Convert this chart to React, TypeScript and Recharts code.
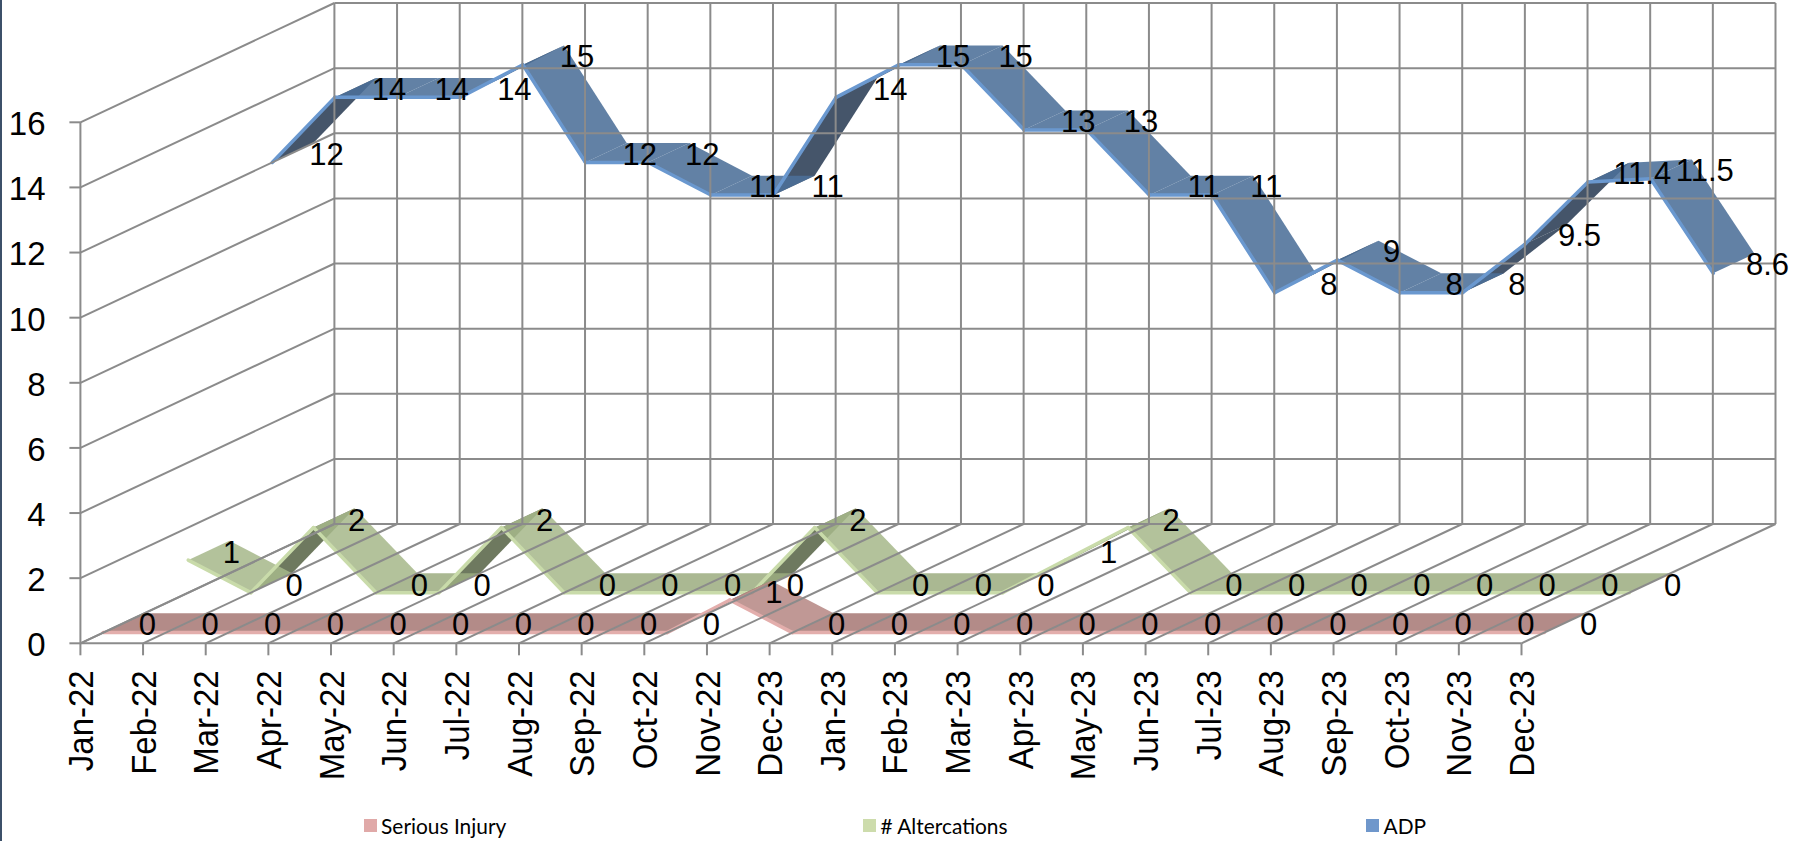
import React from 'react';
import { LineChart, Line, XAxis, YAxis, Legend } from 'recharts';

const months = ['Jan-22','Feb-22','Mar-22','Apr-22','May-22','Jun-22','Jul-22','Aug-22','Sep-22','Oct-22','Nov-22','Dec-23','Jan-23','Feb-23','Mar-23','Apr-23','May-23','Jun-23','Jul-23','Aug-23','Sep-23','Oct-23','Nov-23','Dec-23'];
const seriousInjury = [0,0,0,0,0,0,0,0,0,0,1,0,0,0,0,0,0,0,0,0,0,0,0,0];
const altercations = [1,0,2,0,0,2,0,0,0,0,2,0,0,0,1,2,0,0,0,0,0,0,0,0];
const adp = [12,14,14,14,15,12,12,11,11,14,15,15,13,13,11,11,8,9,8,8,9.5,11.4,11.5,8.6];
const yTicks = [0,2,4,6,8,10,12,14,16];

const chartData = months.map((m, i) => ({ key: i, month: m, serious: seriousInjury[i], alter: altercations[i], adp: adp[i] }));

const W = 1797, H = 841;
const PLOT_LEFT = 80.4, PLOT_RIGHT = 1521.5, PLOT_TOP = 122.3, PLOT_BOTTOM = 643.3;
const DEPTH = 254, RISE = 119.3, SLOPE = RISE / DEPTH;
const GRID = '#8b8b8b';
const AXIS_FONT = '"Liberation Sans", Arial, sans-serif';

const styles: Record<string, any> = {
  serious: { front: 22, back: 64, lx: 67, ly: -19, flat: '#a97b78', down: '#b78a86', under: '#7d5a58', edge: '#e3aeac', op: 0.88 },
  alter: { front: 107, back: 149, lx: 151, ly: -58.6, flat: '#9cac80', down: '#a6b88b', under: '#566345', edge: '#c9dbaa', op: 0.86 },
  adp: { front: 191, back: 233, lx: 246, ly: -99, flat: '#4c7099', down: '#4c7099', under: '#2b3d55', edge: '#6a98cf', op: 0.88 },
};

function ribbon(pts: any[], s: any) {
  const segs = pts.slice(0, -1).map((p, i) => {
    const q = pts[i + 1];
    const a = [p.x + s.front, p.y - s.front * SLOPE];
    const b = [q.x + s.front, q.y - s.front * SLOPE];
    const c = [q.x + s.back, q.y - s.back * SLOPE];
    const d = [p.x + s.back, p.y - s.back * SLOPE];
    const rise = (p.y - q.y) / (q.x - p.x);
    const under = rise > SLOPE + 0.02;
    const fill = under ? s.under : q.y > p.y + 0.5 ? s.down : s.flat;
    return { i, a, b, c, d, under, fill };
  });
  const ordered = [...segs.filter((g) => g.under), ...segs.filter((g) => !g.under)];
  const inset = 0.8;
  return (
    <g>
      {ordered.map((g) => (
        <polygon key={g.i} points={[g.a, g.b, g.c, g.d].map((v) => v.join(',')).join(' ')} fill={g.fill} fillOpacity={s.op} />
      ))}
      {segs.map((g) => (
        <line
          key={'e' + g.i}
          x1={g.a[0] + inset}
          y1={g.a[1] - inset * SLOPE}
          x2={g.b[0] + inset}
          y2={g.b[1] - inset * SLOPE}
          stroke={s.edge}
          strokeWidth={3.5}
          strokeLinecap="round"
        />
      ))}
    </g>
  );
}

const makeDot = (id: string) => (props: any) => {
  if (props.index !== 0) return <g key={id + props.index} />;
  return <g key={id + 'ribbon'}>{ribbon(props.points, styles[id])}</g>;
};

const makeLabel = (id: string) => (props: any) => {
  const s = styles[id];
  return (
    <text key={id + props.index} x={props.x + s.lx} y={props.y + s.ly} dy="0.36em" textAnchor="middle" fontFamily={AXIS_FONT} fontSize={31} fill="#000">
      {props.value}
    </text>
  );
};

const XTick = (props: any) => {
  const { x, payload } = props;
  const fs = 33;
  return (
    <g>
      <line x1={x} y1={PLOT_BOTTOM} x2={x + DEPTH} y2={PLOT_BOTTOM - RISE} stroke={GRID} strokeWidth={2} />
      <line x1={x + DEPTH} y1={PLOT_TOP - RISE} x2={x + DEPTH} y2={PLOT_BOTTOM - RISE} stroke={GRID} strokeWidth={2} />
      <line x1={x} y1={PLOT_BOTTOM} x2={x} y2={PLOT_BOTTOM + 12} stroke={GRID} strokeWidth={2} />
      <text transform={`translate(${x + fs * 0.38},${PLOT_BOTTOM + 27}) rotate(-90) scale(1,1.05)`} textAnchor="end" fontFamily={AXIS_FONT} fontSize={fs} fill="#000">
        {months[payload.index] ?? payload.value}
      </text>
    </g>
  );
};

const YTick = (props: any) => {
  const { y, payload } = props;
  return (
    <g>
      <line x1={PLOT_LEFT} y1={y} x2={PLOT_LEFT + DEPTH} y2={y - RISE} stroke={GRID} strokeWidth={2} />
      <line x1={PLOT_LEFT + DEPTH} y1={y - RISE} x2={PLOT_RIGHT + DEPTH} y2={y - RISE} stroke={GRID} strokeWidth={2} />
      <line x1={PLOT_LEFT - 11} y1={y} x2={PLOT_LEFT} y2={y} stroke={GRID} strokeWidth={2} />
      <text x={45.5} y={y + 1} dy="0.36em" textAnchor="end" fontFamily={AXIS_FONT} fontSize={33} fill="#000">
        {payload.value}
      </text>
    </g>
  );
};

const legendPos: Record<string, number> = { serious: 363.6, alter: 863, adp: 1366 };
const legendColor: Record<string, string> = { serious: '#e0a9a8', alter: '#cddcac', adp: '#6f97cb' };

const LegendContent = (props: any) => (
  <div style={{ position: 'absolute', left: 0, top: 0, width: 0, height: 0 }}>
    {(props.payload || []).map((e: any) => (
      <div key={e.dataKey} style={{ position: 'absolute', left: legendPos[e.dataKey], top: 818.5, height: 14, whiteSpace: 'nowrap' }}>
        <span style={{ position: 'absolute', left: 0, top: 0, width: 13, height: 13.5, background: legendColor[e.dataKey] }} />
        <span style={{ position: 'absolute', left: 17.5, top: -7, fontFamily: 'Lato, sans-serif', fontSize: 20.9, lineHeight: '28px', color: '#000' }}>{e.value}</span>
      </div>
    ))}
  </div>
);

export default function App() {
  return (
    <div style={{ position: 'absolute', left: 0, top: 0, width: W, height: H, background: '#fff', overflow: 'hidden' }}>
      <div style={{ position: 'absolute', left: 0, top: 0, width: 2, height: H, background: '#3c5069', zIndex: 2 }} />
      <LineChart width={W} height={H} data={chartData} margin={{ top: PLOT_TOP, right: W - PLOT_RIGHT, bottom: 97.7, left: 0 }}>
        <XAxis
          dataKey="key"
          height={100}
          interval={0}
          padding={{ left: 0, right: 0 }}
          tick={<XTick />}
          tickLine={false}
          tickSize={0}
          tickMargin={0}
          axisLine={{ stroke: GRID, strokeWidth: 2 }}
        />
        <YAxis
          width={PLOT_LEFT}
          domain={[0, 16]}
          ticks={yTicks}
          interval={0}
          tick={<YTick />}
          tickLine={false}
          tickSize={0}
          tickMargin={0}
          axisLine={{ stroke: GRID, strokeWidth: 2 }}
        />
        <Legend content={<LegendContent />} wrapperStyle={{ position: 'absolute', left: 0, top: 0, width: 0, height: 0 }} />
        <Line dataKey="adp" name="ADP" stroke="none" isAnimationActive={false} dot={makeDot('adp')} activeDot={false} label={makeLabel('adp')} />
        <Line dataKey="alter" name="# Altercations" stroke="none" isAnimationActive={false} dot={makeDot('alter')} activeDot={false} label={makeLabel('alter')} />
        <Line dataKey="serious" name="Serious Injury" stroke="none" isAnimationActive={false} dot={makeDot('serious')} activeDot={false} label={makeLabel('serious')} />
      </LineChart>
    </div>
  );
}
